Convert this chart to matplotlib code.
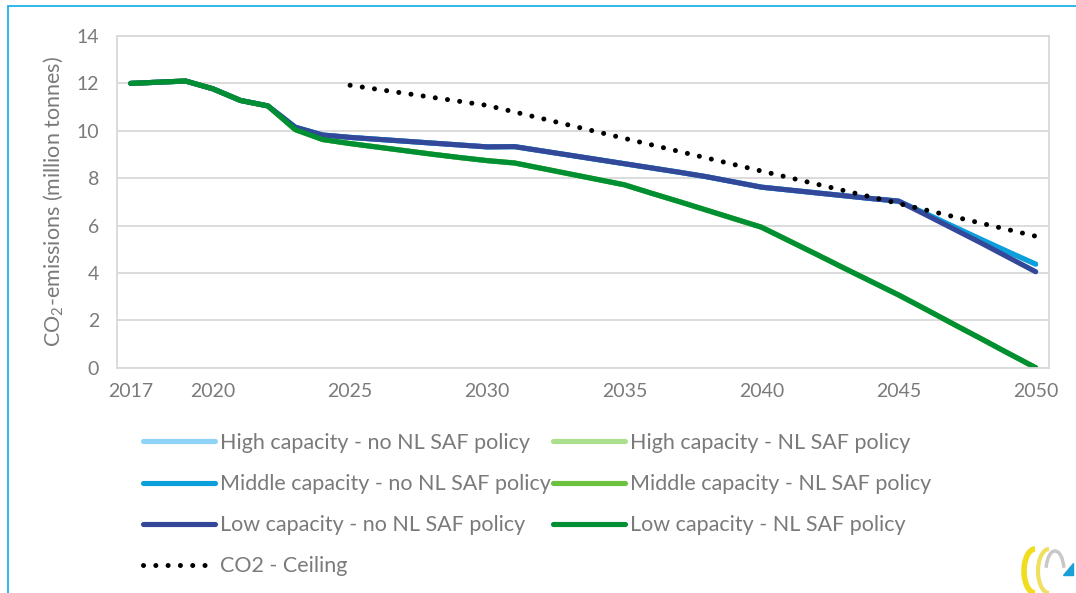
import matplotlib.pyplot as plt
from matplotlib.patches import Rectangle, Arc, Polygon

years = list(range(2017, 2051))

high_no_policy = [12.00, 12.05, 12.10, 11.77, 11.28, 11.05, 10.15, 9.82, 9.72, 9.64,
                  9.56, 9.48, 9.40, 9.32, 9.33, 9.15, 8.97, 8.79, 8.61, 8.43,
                  8.25, 8.06, 7.84, 7.62, 7.50, 7.38, 7.26, 7.14, 7.03, 6.50,
                  5.96, 5.42, 4.89, 4.37]
middle_no_policy = [12.00, 12.05, 12.10, 11.77, 11.28, 11.05, 10.15, 9.82, 9.72, 9.64,
                    9.56, 9.48, 9.40, 9.32, 9.33, 9.15, 8.97, 8.79, 8.61, 8.43,
                    8.25, 8.06, 7.84, 7.62, 7.50, 7.38, 7.26, 7.14, 7.03, 6.50,
                    5.96, 5.42, 4.89, 4.37]
low_no_policy = [12.00, 12.05, 12.10, 11.77, 11.28, 11.05, 10.15, 9.82, 9.72, 9.64,
                 9.56, 9.48, 9.40, 9.32, 9.33, 9.15, 8.97, 8.79, 8.61, 8.43,
                 8.25, 8.06, 7.84, 7.62, 7.50, 7.38, 7.26, 7.14, 7.03, 6.45,
                 5.86, 5.27, 4.66, 4.05]
high_policy = [12.00, 12.05, 12.10, 11.77, 11.28, 11.05, 10.05, 9.63, 9.46, 9.31,
               9.16, 9.01, 8.87, 8.74, 8.64, 8.41, 8.18, 7.95, 7.72, 7.36,
               7.01, 6.65, 6.29, 5.93, 5.36, 4.79, 4.21, 3.64, 3.07, 2.46,
               1.84, 1.23, 0.61, 0.00]
middle_policy = list(high_policy)
low_policy = list(high_policy)

ceiling_years = [2025, 2030, 2035, 2040, 2045, 2050]
ceiling = [11.92, 11.07, 9.68, 8.30, 6.93, 5.55]

xtick_years = [2017, 2020, 2025, 2030, 2035, 2040, 2045, 2050]

plt.rcParams["font.family"] = ["Lato", "DejaVu Sans"]
plt.rcParams["mathtext.fontset"] = "custom"
plt.rcParams["mathtext.rm"] = "Lato"
plt.rcParams["mathtext.it"] = "Lato"
txt = "#7a7a7a"
grid = "#d9d9d9"

fig = plt.figure(figsize=(10.76, 5.93), dpi=100)
ax = fig.add_axes([117 / 1076, 1 - 367.7 / 593, (1049.4 - 117) / 1076, (367.7 - 36) / 593])

lw = 3.7
series = [
    (high_no_policy, "#8fd4f6", "High capacity - no NL SAF policy"),
    (middle_no_policy, "#0b9fdb", "Middle capacity - no NL SAF policy"),
    (high_policy, "#a9df8d", "High capacity - NL SAF policy"),
    (middle_policy, "#6cc13f", "Middle capacity - NL SAF policy"),
    (low_no_policy, "#34489a", "Low capacity - no NL SAF policy"),
    (low_policy, "#008f33", "Low capacity - NL SAF policy"),
]
lines = {}
for vals, col, lab in series:
    ln, = ax.plot(years, vals, color=col, lw=lw, label=lab,
                  solid_capstyle="round", solid_joinstyle="round")
    lines[lab] = ln
ln, = ax.plot(ceiling_years, ceiling, color="black", lw=3.6, label="CO2 - Ceiling",
              linestyle=(0, (0.01, 2.45)), dash_capstyle="round")
lines["CO2 - Ceiling"] = ln

ax.set_xlim(2016.5, 2050.5)
ax.set_ylim(0, 14)
ax.set_yticks(range(0, 15, 2))
ax.set_xticks(xtick_years)
ax.grid(axis="y", color=grid, lw=1.3)
ax.set_axisbelow(True)
for s in ax.spines.values():
    s.set_color(grid)
    s.set_linewidth(1.3)
ax.tick_params(length=0, labelsize=14, colors=txt)
ax.tick_params(axis="y", pad=13)
ax.tick_params(axis="x", pad=11)
ax.set_ylabel("CO$_2$-emissions (million tonnes)", fontsize=15.5, color=txt, labelpad=8)

order = ["High capacity - no NL SAF policy", "Middle capacity - no NL SAF policy",
         "Low capacity - no NL SAF policy", "CO2 - Ceiling",
         "High capacity - NL SAF policy", "Middle capacity - NL SAF policy",
         "Low capacity - NL SAF policy"]
leg = fig.legend([lines[k] for k in order], order, ncol=2, loc="upper left",
                 bbox_to_anchor=(143 / 1076, 1 - 433 / 593), frameon=False,
                 borderpad=0, borderaxespad=0,
                 fontsize=15.5, handlelength=3.35, handletextpad=0.23,
                 columnspacing=0.1, labelspacing=0.98)
for t in leg.get_texts():
    t.set_color(txt)

# outer frame
fig.patches.append(Rectangle((8 / 1076, -0.05), 1.1, 1 - 6 / 593 + 0.05,
                             transform=fig.transFigure, fill=False,
                             edgecolor="#1fb2e8", lw=1.3))

# small logo bottom right
lax = fig.add_axes([1015 / 1076, 0, 60 / 1076, 55 / 593])
lax.set_xlim(0, 60)
lax.set_ylim(0, 55)
lax.axis("off")
lax.add_patch(Arc((20, 22), 22, 44, theta1=90, theta2=270, color="#f2dc1e", lw=4))
lax.add_patch(Arc((34, 22), 22, 44, theta1=90, theta2=270, color="#f0e060", lw=3))
lax.add_patch(Arc((40, 22), 18, 40, theta1=20, theta2=160, color="#c8c8c8", lw=2.5))
lax.add_patch(Polygon([[48, 18], [58, 18], [58, 30]], color="#1a9fd6"))

fig.savefig("out.png", dpi=100)
